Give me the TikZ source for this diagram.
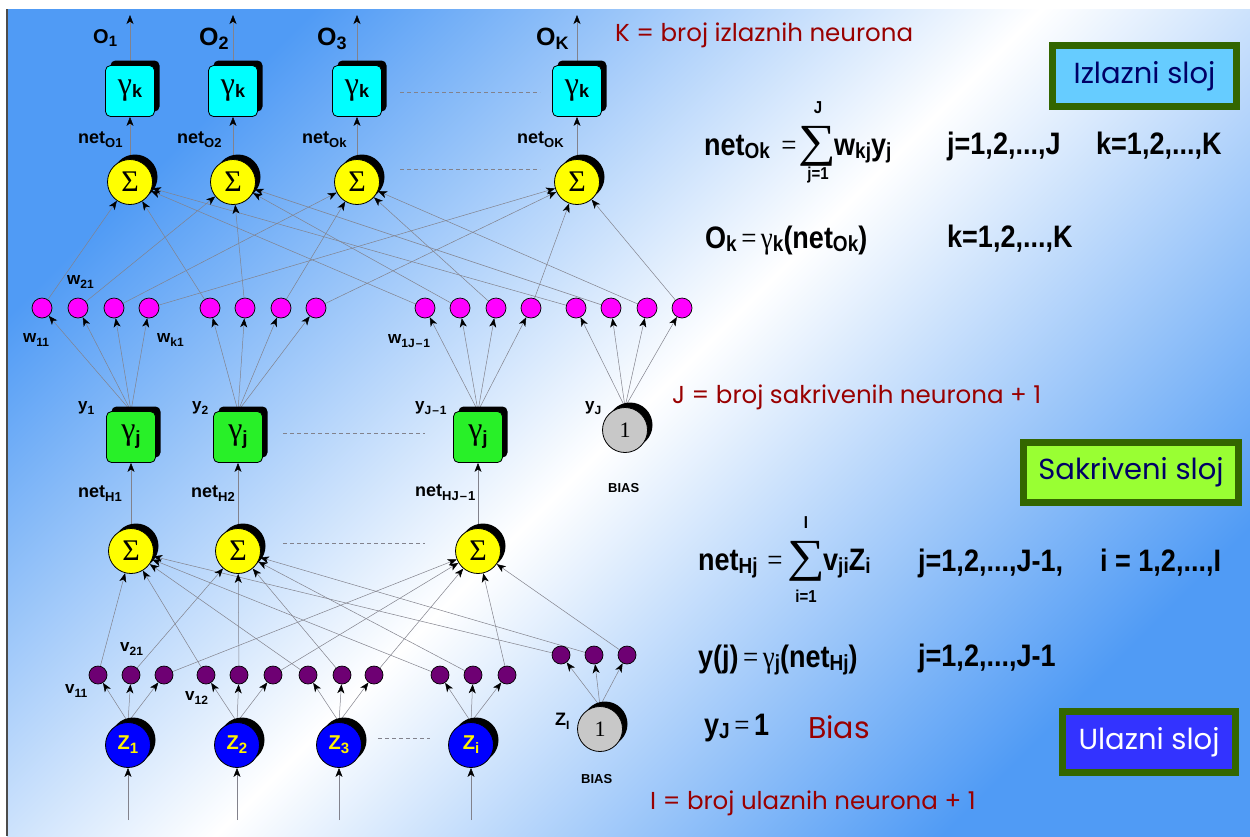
\documentclass[tikz,border=0pt]{standalone}
\usepackage{graphicx}
\usepackage{fontspec}
\setmainfont{Liberation Sans}
\newfontfamily\comic{Poppins}
\newfontfamily\serif{Liberation Serif}
\usetikzlibrary{arrows.meta,shadows}
\definecolor{bgblue}{RGB}{80,155,245}
\definecolor{cyanbox}{RGB}{0,255,255}
\definecolor{greenbox}{RGB}{40,240,40}
\definecolor{sumyellow}{RGB}{255,255,0}
\definecolor{wmag}{RGB}{255,0,255}
\definecolor{vpurp}{RGB}{110,0,115}
\definecolor{zblue}{RGB}{0,0,255}
\definecolor{biasgray}{RGB}{200,200,200}
\definecolor{darkred}{RGB}{153,0,0}
\definecolor{navy}{RGB}{0,0,102}
\definecolor{framegreen}{RGB}{51,102,0}
\definecolor{izlblue}{RGB}{102,204,255}
\definecolor{sakgreen}{RGB}{153,255,51}
\definecolor{ulzblue}{RGB}{51,51,255}
\definecolor{linegray}{RGB}{130,130,140}
\newcommand\fs[1]{\fontsize{#1}{#1}\selectfont}
\newcommand\sbs[3][4pt]{\raisebox{-#1}{\fs{#2}#3}}
\newcommand\gam{{\serif\mdseries γ}}
\newcommand\eq{\,{\serif\mdseries =}\,}
\newcommand\E[1]{\scalebox{1}[1.15]{#1}}
\pgfdeclarelayer{bg}\pgfdeclarelayer{edges}\pgfsetlayers{bg,edges,main}
\begin{document}
\begin{tikzpicture}[x=1pt,y=-1pt,
  shad/.style={drop shadow={shadow xshift=5pt,shadow yshift=5pt,fill=black,opacity=1}},
  sumnode/.style={circle,draw=black,line width=0.8pt,fill=sumyellow,minimum size=45pt,inner sep=0pt,shad,font=\serif\fs{30}},
  gbox/.style={rectangle,rounded corners=5pt,draw=black,line width=0.8pt,minimum width=49pt,minimum height=51pt,inner sep=0pt,shad,font=\fs{32}},
  wnode/.style={circle,draw=black,line width=0.7pt,fill=wmag,minimum size=20pt,inner sep=0pt},
  vnode/.style={circle,draw=black,line width=0.7pt,fill=vpurp,minimum size=18pt,inner sep=0pt},
  znode/.style={circle,draw=black,line width=0.8pt,fill=zblue,minimum size=45pt,inner sep=0pt,shad,text=yellow,font=\bfseries\fs{20}},
  biasnode/.style={circle,draw=black,line width=0.8pt,fill=biasgray,minimum size=45pt,inner sep=0pt,shad,font=\serif\fs{22}},
  lbl/.style={inner sep=0pt,anchor=base west,font=\bfseries\fs{18}},
  conn/.style={draw=linegray,line width=0.5pt,-{Stealth[length=9pt,width=7pt,inset=2.5pt,black]}},
  dashline/.style={draw=linegray,line width=0.5pt,dash pattern=on 4pt off 3pt},
  redtxt/.style={inner sep=0pt,anchor=west,text=darkred,font=\comic\fs{24.5}},
  eqn/.style={inner sep=0pt,anchor=base west,font=\bfseries\fs{27}},
  eqs/.style={inner sep=0pt,anchor=base,font=\serif\fs{27}},
  sigma/.style={inner sep=0pt,anchor=center,font=\serif\fs{46}},
  lim/.style={inner sep=0pt,anchor=center,font=\bfseries\fs{15}},
  layerbox/.style={draw=framegreen,line width=7pt,inner sep=0pt,font=\comic\fs{29}}
]
\useasboundingbox (0,0) rectangle (1250,836);
\begin{pgfonlayer}{bg}
\fill[white] (0,0) rectangle (1250,836);
\shade[left color=bgblue,right color=bgblue,middle color=white,shading angle=45] (7,9) rectangle (1250,836);
\draw[gray!60!black,line width=1.5pt] (7,9) -- (7,836);
\end{pgfonlayer}

% ---------- output layer ----------
\foreach \x [count=\k] in {130,233,357,577}{
  \node[sumnode] (s\k) at (\x,182) {Σ};
  \node[gbox,fill=cyanbox] (g\k) at (\x,91) {\gam\sbs[3pt]{18}{\bfseries k}};
  \coordinate (o\k) at (\x,15);
}
\node[lbl,font=\bfseries\fs{20}] (lo1) at (93,43) {O\sbs[3pt]{15}{1}};
\node[lbl,font=\bfseries\fs{25}] (lo2) at (199,45) {O\sbs[4pt]{18}{2}};
\node[lbl,font=\bfseries\fs{25}] (lo3) at (317,45) {O\sbs[4pt]{18}{3}};
\node[lbl,font=\bfseries\fs{25}] (lo4) at (536,45) {O\sbs[4pt]{18}{K}};
\node[lbl] (no1) at (78,143) {net\sbs{13}{O1}};
\node[lbl] (no2) at (177,143) {net\sbs{13}{O2}};
\node[lbl] (no3) at (302,143) {net\sbs{13}{Ok}};
\node[lbl] (no4) at (517,143) {net\sbs{13}{OK}};

% weights w
\foreach \x [count=\k] in {42,78,114,149}{\node[wnode] (w1\k) at (\x,308) {};}
\foreach \x [count=\k] in {210,245,281,316}{\node[wnode] (w2\k) at (\x,308) {};}
\foreach \x [count=\k] in {425,460,496,531}{\node[wnode] (w3\k) at (\x,308) {};}
\foreach \x [count=\k] in {576,611,647,682}{\node[wnode] (w4\k) at (\x,308) {};}
\node[lbl,font=\bfseries\fs{17}] (lw21) at (67,284) {w\sbs{12}{21}};
\node[lbl,font=\bfseries\fs{17}] (lw11) at (23,342) {w\sbs{12}{11}};
\node[lbl,font=\bfseries\fs{17}] (lwk1) at (157,342) {w\sbs{12}{k1}};
\node[lbl,font=\bfseries\fs{17}] (lw1j) at (388,343) {w\sbs{12}{1J\kern1pt--\kern1pt1}};

% ---------- hidden layer ----------
\foreach \x [count=\j] in {131,238,478}{
  \node[gbox,fill=greenbox] (h\j) at (\x,437) {\gam\sbs[5pt]{19}{\bfseries j}};
  \node[sumnode] (sh\j) at (\x,551) {Σ};
}
\node[biasnode] (yb) at (625,430) {1};
\node[lbl,font=\bfseries\fs{17}] (ly1) at (78,410) {y\sbs{12}{1}};
\node[lbl,font=\bfseries\fs{17}] (ly2) at (192,410) {y\sbs{12}{2}};
\node[lbl,font=\bfseries\fs{17}] (ly3) at (415,410) {y\sbs{12}{J\kern1pt--\kern1pt1}};
\node[lbl,font=\bfseries\fs{17}] (lyj) at (585,410) {y\sbs{12}{J}};
\node[lbl,font=\bfseries\fs{13}] (lbias1) at (608,492) {BIAS};
\node[lbl] (nh1) at (78,497) {net\sbs{13}{H1}};
\node[lbl] (nh2) at (191,497) {net\sbs{13}{H2}};
\node[lbl] (nh3) at (415,496) {net\sbs{13}{HJ\kern1pt--\kern1pt1}};

% weights v
\foreach \x [count=\j] in {98,131,164}{\node[vnode] (v1\j) at (\x,675) {};}
\foreach \x [count=\j] in {206,239,273}{\node[vnode] (v2\j) at (\x,675) {};}
\foreach \x [count=\j] in {308,342,374}{\node[vnode] (v3\j) at (\x,675) {};}
\foreach \x [count=\j] in {440,473,507}{\node[vnode] (v4\j) at (\x,675) {};}
\foreach \x [count=\j] in {561,594,627}{\node[vnode] (v5\j) at (\x,655) {};}
\node[lbl,font=\bfseries\fs{17}] (lv21) at (120,651) {v\sbs{12}{21}};
\node[lbl,font=\bfseries\fs{17}] (lv11) at (65,693) {v\sbs{12}{11}};
\node[lbl,font=\bfseries\fs{17}] (lv12) at (185,700) {v\sbs{12}{12}};

% ---------- input layer ----------
\foreach \x/\t [count=\i] in {128/1,237/2,339/3,471/i}{
  \node[znode] (z\i) at (\x,745) {Z\sbs[4pt]{15}{\t}};
  \coordinate (in\i) at (\x,820);
}
\node[biasnode] (zb) at (600,729) {1};
\node[lbl,font=\bfseries\fs{18}] (lzi) at (555,725) {Z\sbs{12}{I}};
\node[lbl,font=\bfseries\fs{13}] (lbias2) at (581,783) {BIAS};

% ---------- connectors ----------
\begin{pgfonlayer}{edges}
\foreach \k in {1,...,4}{
  \draw[conn] (g\k.north) -- (o\k);
  \draw[conn] (s\k.north) -- (g\k.south);
  \foreach \j in {1,...,4}{\draw[conn] (w\j\k) -- (s\k);}
  \foreach \j in {1,...,3}{\draw[conn] (h\j.north) -- (w\j\k);}
  \draw[conn] (yb.north) -- (w4\k);
}
\foreach \j in {1,...,3}{
  \draw[conn] (sh\j.north) -- (h\j.south);
  \foreach \i in {1,...,5}{\draw[conn] (v\i\j) -- (sh\j);}
  \foreach \i in {1,...,4}{\draw[conn] (z\i.north) -- (v\i\j);}
  \draw[conn] (zb.north) -- (v5\j);
}
\foreach \i in {1,...,4}{\draw[conn] (in\i) -- (z\i.south);}
% dashed continuation lines
\draw[dashline] (400,92) -- (540,92);
\draw[dashline] (400,169) -- (540,169);
\draw[dashline] (283,433) -- (425,433);
\draw[dashline] (283,543) -- (425,543);
\draw[dashline] (378,738) -- (430,738);
\end{pgfonlayer}

% ---------- right side texts ----------
\node[redtxt] (tk) at (615,35) {K = broj izlaznih neurona};
\node[redtxt] (tj) at (672,397) {J = broj sakrivenih neurona + 1};
\node[redtxt] (ti) at (650,803) {I = broj ulaznih neurona + 1};

\node[layerbox,fill=izlblue,text=navy,minimum width=184pt,minimum height=61pt] (bizl) at (1144.5,76) {Izlazni sloj};
\node[layerbox,fill=sakgreen,text=navy,minimum width=215pt,minimum height=60pt] (bsak) at (1131,472.5) {Sakriveni sloj};
\node[layerbox,fill=ulzblue,text=white,minimum width=173pt,minimum height=61pt] (bulz) at (1149,742) {Ulazni sloj};

% equation 1
\node[eqn] (e1) at (704,155) {\E{net\sbs[3pt]{19}{Ok}}};
\node[eqs] (e1q) at (789,155) {\E{=}};
\node[sigma] (e1s) at (817,146) {\scalebox{1.15}[1]{∑}};
\node[lim] (e1t) at (818,108) {\E{J}};
\node[lim] (e1b) at (818,175) {\E{j=1}};
\node[eqn] (e1r) at (834,155) {\E{w\sbs[3pt]{19}{kj}y\sbs[3pt]{19}{j}}};
\node[eqn] (e1c) at (947,154) {\E{j=1,2,...,J}};
\node[eqn] (e1d) at (1096,154) {\E{k=1,2,...,K}};
% equation 2
\node[eqn] (e2) at (705,248) {\E{O\sbs[3pt]{19}{k}\eq\gam\sbs[3pt]{19}{k}(net\sbs[3pt]{19}{Ok})}};
\node[eqn] (e2c) at (947,247) {\E{k=1,2,...,K}};
% equation 3
\node[eqn] (e3) at (698,570) {\E{net\sbs[3pt]{19}{Hj}}};
\node[eqs] (e3q) at (775,570) {\E{=}};
\node[sigma] (e3s) at (806,561) {\scalebox{1.15}[1]{∑}};
\node[lim] (e3t) at (806,523) {\E{I}};
\node[lim] (e3b) at (806,596) {\E{i=1}};
\node[eqn] (e3r) at (823,570) {\E{v\sbs[3pt]{19}{ji}Z\sbs[3pt]{19}{i}}};
\node[eqn] (e3c) at (918,571) {\E{j=1,2,...,J-1,}};
\node[eqn] (e3d) at (1100,571) {\E{i = 1,2,...,I}};
% equation 4
\node[eqn] (e4) at (698,667) {\E{y(j)\eq\gam\sbs[3pt]{19}{j}(net\sbs[3pt]{19}{Hj})}};
\node[eqn] (e4c) at (918,666) {\E{j=1,2,...,J-1}};
% equation 5
\node[eqn] (e5) at (704,735) {\E{y\sbs[3pt]{19}{J}\eq 1}};
\node[redtxt,font=\comic\fs{30}] (tbias) at (808,727) {Bias};
\end{tikzpicture}
\end{document}
